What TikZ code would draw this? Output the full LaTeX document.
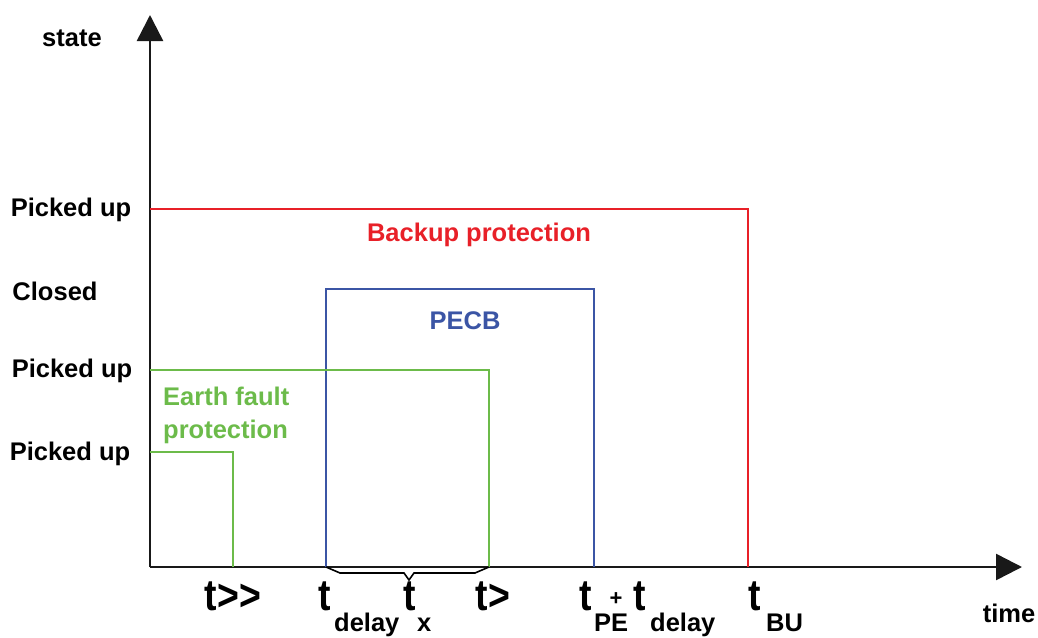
\documentclass[tikz,border=0pt]{standalone}
\usepackage{fontspec}
\setmainfont{Liberation Sans}
\newfontfamily\narrowfont{Liberation Sans}[FakeStretch=0.85]
\usetikzlibrary{arrows.meta}
\definecolor{bured}{RGB}{232,32,40}
\definecolor{pblue}{RGB}{59,85,165}
\definecolor{efgreen}{RGB}{108,187,74}
\begin{document}
\begin{tikzpicture}[x=1pt,y=-1pt,
  lbl/.style={font=\fontsize{25.5}{28}\selectfont\bfseries, anchor=base, inner sep=0pt},
  big/.style={font=\narrowfont\fontsize{44}{48}\selectfont\bfseries, anchor=base, inner sep=0pt},
  axis/.style={line width=2.5pt, draw=black!90, -{Triangle[length=26pt,width=26pt]}},
  sig/.style={line width=2.2pt}]
\useasboundingbox (0,0) rectangle (1038,637);
\coordinate (O) at (150,567);
\coordinate (ytip) at (150,15);
\coordinate (xtip) at (1022,567);
\draw[axis] (O) -- (ytip);
\draw[axis] (O) -- (xtip);
% signals
\draw[sig, bured] (150,209) -- (748,209) -- (748,567);
\draw[sig, pblue] (326,567) -- (326,289) -- (594,289) -- (594,567);
\draw[sig, efgreen] (150,370) -- (489,370) -- (489,567);
\draw[sig, efgreen] (150,452) -- (233,452) -- (233,567);
% brace
\draw[line width=1.6pt] (326,567) -- (340,573) -- (404,573) -- (409,580) -- (414,573) -- (475,573) -- (489,567);
% state labels
\node[lbl] (state) at (72,46) {state};
\node[lbl] (pu1) at (71,216) {Picked up};
\node[lbl] (closed) at (55,300) {Closed};
\node[lbl] (pu2) at (72,377) {Picked up};
\node[lbl] (pu3) at (70,460) {Picked up};
\node[lbl, text=bured] (bp) at (479,241) {Backup protection};
\node[lbl, text=pblue] (pecb) at (465,329) {PECB};
\node[lbl, text=efgreen, anchor=base west] (ef1) at (163,405) {Earth fault};
\node[lbl, text=efgreen, anchor=base west] (ef2) at (163,438) {protection};
% time labels
\node[big] (tgg) at (233,610) {t{>}{>}};
\node[big] (td) at (325,610) {t};
\node[lbl, anchor=base west] (delay1) at (334,631) {delay};
\node[big] (tx) at (410,610) {t};
\node[lbl, anchor=base west] (xsub) at (417,631) {x};
\node[big] (tg) at (493,610) {t{>}};
\node[big] (tpe) at (586,610) {t};
\node[lbl, anchor=base west] (pe) at (594,631) {PE};
\node[font=\fontsize{22}{24}\selectfont\bfseries, anchor=base, inner sep=0pt] (plus) at (616,605) {+};
\node[big] (td2) at (640,610) {t};
\node[lbl, anchor=base west] (delay2) at (650,631) {delay};
\node[big] (tbu) at (755,610) {t};
\node[lbl, anchor=base west] (bu) at (766,631) {BU};
\node[lbl] (time) at (1009,622) {time};
\end{tikzpicture}
\end{document}
